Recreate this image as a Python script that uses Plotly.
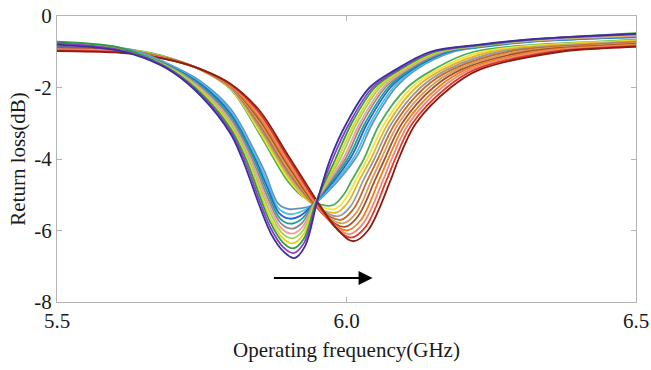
import plotly.graph_objects as go

# ---------------- data ----------------
# left family (resonance near 5.90 GHz), deepest first
freq_a0 = [5.50, 5.60, 5.65, 5.70, 5.75, 5.80, 5.820, 5.870, 5.892, 5.910, 5.928, 5.950, 5.972, 6.000, 6.040, 6.085, 6.145, 6.23, 6.32, 6.50]
rl_a0 = [-0.80, -0.95, -1.17, -1.57, -2.26, -3.30, -4.0, -6.10, -6.60, -6.77, -6.45, -5.15, -4.0, -3.0, -2.0, -1.5, -1.0, -0.80, -0.65, -0.50]
freq_a1 = [5.50, 5.60, 5.65, 5.70, 5.75, 5.80, 5.823, 5.869, 5.891, 5.909, 5.927, 5.949, 5.976, 6.005, 6.045, 6.089, 6.149, 6.23, 6.32, 6.50]
rl_a1 = [-0.76, -0.92, -1.15, -1.55, -2.22, -3.23, -4.0, -5.93, -6.47, -6.63, -6.34, -5.17, -4.0, -3.0, -2.0, -1.5, -1.0, -0.81, -0.66, -0.51]
freq_a2 = [5.50, 5.60, 5.65, 5.70, 5.75, 5.80, 5.826, 5.868, 5.890, 5.908, 5.926, 5.948, 5.981, 6.009, 6.049, 6.092, 6.153, 6.23, 6.32, 6.50]
rl_a2 = [-0.72, -0.86, -1.12, -1.53, -2.18, -3.16, -4.0, -5.76, -6.33, -6.50, -6.24, -5.18, -4.0, -3.0, -2.0, -1.5, -1.0, -0.82, -0.66, -0.48]
freq_a3 = [5.50, 5.60, 5.65, 5.70, 5.75, 5.80, 5.828, 5.867, 5.889, 5.907, 5.925, 5.947, 5.985, 6.014, 6.054, 6.096, 6.157, 6.23, 6.32, 6.50]
rl_a3 = [-0.74, -0.88, -1.13, -1.52, -2.14, -3.09, -4.0, -5.59, -6.20, -6.36, -6.13, -5.20, -4.0, -3.0, -2.0, -1.5, -1.0, -0.82, -0.67, -0.53]
freq_a4 = [5.50, 5.60, 5.65, 5.70, 5.75, 5.80, 5.831, 5.866, 5.888, 5.906, 5.924, 5.946, 5.989, 6.018, 6.058, 6.099, 6.161, 6.23, 6.32, 6.50]
rl_a4 = [-0.77, -0.90, -1.13, -1.50, -2.10, -3.02, -4.0, -5.42, -6.06, -6.22, -6.02, -5.21, -4.0, -3.0, -2.0, -1.5, -1.0, -0.83, -0.68, -0.52]
freq_a5 = [5.50, 5.60, 5.65, 5.70, 5.75, 5.80, 5.834, 5.865, 5.887, 5.905, 5.923, 5.945, 5.994, 6.023, 6.063, 6.103, 6.165, 6.23, 6.32, 6.50]
rl_a5 = [-0.81, -0.93, -1.14, -1.49, -2.06, -2.95, -4.0, -5.25, -5.93, -6.09, -5.92, -5.23, -4.0, -3.0, -2.0, -1.5, -1.0, -0.84, -0.69, -0.55]
freq_a6 = [5.50, 5.60, 5.65, 5.70, 5.75, 5.80, 5.837, 5.864, 5.886, 5.904, 5.922, 5.944, 5.998, 6.027, 6.067, 6.106, 6.169, 6.23, 6.32, 6.50]
rl_a6 = [-0.75, -0.88, -1.10, -1.47, -2.01, -2.88, -4.0, -5.08, -5.79, -5.95, -5.81, -5.24, -4.0, -3.0, -2.0, -1.5, -1.0, -0.85, -0.70, -0.56]
freq_a7 = [5.50, 5.60, 5.65, 5.70, 5.75, 5.80, 5.840, 5.863, 5.885, 5.903, 5.921, 5.943, 6.002, 6.032, 6.072, 6.110, 6.173, 6.23, 6.32, 6.50]
rl_a7 = [-0.79, -0.90, -1.11, -1.45, -1.97, -2.81, -4.0, -4.91, -5.66, -5.81, -5.70, -5.26, -4.0, -3.0, -2.0, -1.5, -1.0, -0.86, -0.70, -0.57]
freq_a8 = [5.50, 5.60, 5.65, 5.70, 5.75, 5.80, 5.842, 5.862, 5.884, 5.902, 5.920, 5.942, 6.006, 6.036, 6.076, 6.113, 6.177, 6.23, 6.32, 6.50]
rl_a8 = [-0.83, -0.93, -1.12, -1.44, -1.93, -2.74, -4.0, -4.74, -5.52, -5.67, -5.59, -5.27, -4.0, -3.0, -2.0, -1.5, -1.0, -0.86, -0.71, -0.58]
freq_a9 = [5.50, 5.60, 5.65, 5.70, 5.75, 5.80, 5.845, 5.861, 5.883, 5.901, 5.919, 5.941, 6.011, 6.041, 6.081, 6.117, 6.181, 6.23, 6.32, 6.50]
rl_a9 = [-0.78, -0.88, -1.08, -1.42, -1.89, -2.67, -4.0, -4.57, -5.39, -5.54, -5.49, -5.29, -4.0, -3.0, -2.0, -1.5, -1.0, -0.87, -0.71, -0.59]
freq_a10 = [5.50, 5.60, 5.65, 5.70, 5.75, 5.80, 5.848, 5.860, 5.882, 5.900, 5.918, 5.940, 6.015, 6.045, 6.085, 6.120, 6.185, 6.23, 6.32, 6.50]
rl_a10 = [-0.76, -0.86, -1.05, -1.40, -1.85, -2.60, -4.0, -4.40, -5.25, -5.40, -5.38, -5.30, -4.0, -3.0, -2.0, -1.5, -1.0, -0.88, -0.72, -0.60]

# right family (resonance 5.97 - 6.01 GHz), deepest first
freq_b0 = [5.50, 5.60, 5.65, 5.70, 5.75, 5.80, 5.85, 5.90, 5.986, 6.012, 6.037, 6.076, 6.090, 6.120, 6.180, 6.230, 6.370, 6.45, 6.50]
rl_b0 = [-0.98, -1.02, -1.10, -1.25, -1.50, -1.90, -2.65, -3.92, -6.00, -6.30, -6.00, -4.6, -4.0, -3.0, -2.0, -1.5, -1.0, -0.90, -0.86]
freq_b1 = [5.50, 5.60, 5.65, 5.70, 5.75, 5.80, 5.85, 5.90, 5.980, 6.008, 6.033, 6.069, 6.084, 6.114, 6.173, 6.222, 6.355, 6.45, 6.50]
rl_b1 = [-0.96, -1.00, -1.09, -1.25, -1.50, -1.92, -2.72, -4.00, -5.90, -6.20, -5.90, -4.6, -4.0, -3.0, -2.0, -1.5, -1.0, -0.88, -0.84]
freq_b2 = [5.50, 5.60, 5.65, 5.70, 5.75, 5.80, 5.85, 5.90, 5.975, 6.005, 6.029, 6.063, 6.078, 6.108, 6.165, 6.214, 6.340, 6.45, 6.50]
rl_b2 = [-0.93, -0.97, -1.08, -1.24, -1.50, -1.93, -2.78, -4.07, -5.80, -6.10, -5.80, -4.6, -4.0, -3.0, -2.0, -1.5, -1.0, -0.86, -0.82]
freq_b3 = [5.50, 5.60, 5.65, 5.70, 5.75, 5.80, 5.85, 5.90, 5.969, 6.001, 6.025, 6.056, 6.072, 6.102, 6.158, 6.206, 6.325, 6.45, 6.50]
rl_b3 = [-0.95, -0.98, -1.07, -1.24, -1.51, -1.95, -2.85, -4.14, -5.70, -6.00, -5.70, -4.6, -4.0, -3.0, -2.0, -1.5, -1.0, -0.84, -0.80]
freq_b4 = [5.50, 5.60, 5.65, 5.70, 5.75, 5.80, 5.85, 5.90, 5.963, 5.997, 6.020, 6.049, 6.066, 6.096, 6.150, 6.198, 6.310, 6.45, 6.50]
rl_b4 = [-0.90, -0.94, -1.06, -1.23, -1.51, -1.96, -2.91, -4.21, -5.60, -5.90, -5.60, -4.6, -4.0, -3.0, -2.0, -1.5, -1.0, -0.82, -0.78]
freq_b5 = [5.50, 5.60, 5.65, 5.70, 5.75, 5.80, 5.85, 5.90, 5.958, 5.994, 6.017, 6.043, 6.060, 6.090, 6.143, 6.190, 6.295, 6.45, 6.50]
rl_b5 = [-0.92, -0.96, -1.05, -1.23, -1.51, -1.98, -2.98, -4.29, -5.50, -5.80, -5.50, -4.6, -4.0, -3.0, -2.0, -1.5, -1.0, -0.80, -0.76]
freq_b6 = [5.50, 5.60, 5.65, 5.70, 5.75, 5.80, 5.85, 5.90, 5.952, 5.990, 6.012, 6.036, 6.054, 6.084, 6.135, 6.182, 6.280, 6.45, 6.50]
rl_b6 = [-0.86, -0.91, -1.04, -1.22, -1.51, -1.99, -3.04, -4.36, -5.40, -5.70, -5.40, -4.6, -4.0, -3.0, -2.0, -1.5, -1.0, -0.78, -0.74]
freq_b7 = [5.50, 5.60, 5.65, 5.70, 5.75, 5.80, 5.85, 5.90, 5.946, 5.986, 6.008, 6.029, 6.048, 6.078, 6.128, 6.174, 6.265, 6.45, 6.50]
rl_b7 = [-0.89, -0.93, -1.03, -1.22, -1.51, -2.01, -3.11, -4.43, -5.30, -5.60, -5.30, -4.6, -4.0, -3.0, -2.0, -1.5, -1.0, -0.76, -0.72]
freq_b8 = [5.50, 5.60, 5.65, 5.70, 5.75, 5.80, 5.85, 5.90, 5.940, 5.982, 6.003, 6.022, 6.042, 6.072, 6.120, 6.166, 6.250, 6.45, 6.50]
rl_b8 = [-0.85, -0.90, -1.02, -1.21, -1.52, -2.02, -3.17, -4.50, -5.25, -5.50, -5.20, -4.6, -4.0, -3.0, -2.0, -1.5, -1.0, -0.74, -0.70]
freq_b9 = [5.50, 5.60, 5.65, 5.70, 5.75, 5.80, 5.85, 5.90, 5.935, 5.979, 5.999, 6.016, 6.036, 6.066, 6.113, 6.158, 6.235, 6.45, 6.50]
rl_b9 = [-0.87, -0.91, -1.01, -1.21, -1.52, -2.04, -3.24, -4.57, -5.17, -5.40, -5.10, -4.6, -4.0, -3.0, -2.0, -1.5, -1.0, -0.72, -0.68]
freq_b10 = [5.50, 5.60, 5.65, 5.70, 5.75, 5.80, 5.85, 5.90, 5.929, 5.975, 5.995, 6.009, 6.030, 6.058, 6.105, 6.150, 6.220, 6.45, 6.50]
rl_b10 = [-0.84, -0.89, -1.00, -1.20, -1.52, -2.05, -3.30, -4.65, -5.10, -5.30, -5.00, -4.6, -4.0, -3.0, -2.0, -1.5, -1.0, -0.70, -0.66]

colors_a = ['#3b2f9e', '#8a3fc8', '#2e9e3e', '#e6d21e', '#9ad35a', '#f29c9c',
            '#8c8c8c', '#1f9e9a', '#2a62d6', '#3cc6dc', '#6a8fbf']
colors_b = ['#8b1e12', '#e0382a', '#ec8a78', '#f07f1e', '#a0522d', '#d79a5a',
            '#c46a2a', '#9a9a9a', '#e2b42c', '#f2e43a', '#4caf50']

x_ticks = [5.5, 6.0, 6.5]
x_tick_text = ['5.5', '6.0', '6.5']
y_ticks = [0, -2, -4, -6, -8]
y_tick_text = ['0', '-2', '-4', '-6', '-8']

arrow_x = [5.872, 6.045]
arrow_y = -7.33

# ---------------- figure ----------------
freqs_a = [freq_a0, freq_a1, freq_a2, freq_a3, freq_a4, freq_a5, freq_a6, freq_a7, freq_a8, freq_a9, freq_a10]
rls_a = [rl_a0, rl_a1, rl_a2, rl_a3, rl_a4, rl_a5, rl_a6, rl_a7, rl_a8, rl_a9, rl_a10]
freqs_b = [freq_b0, freq_b1, freq_b2, freq_b3, freq_b4, freq_b5, freq_b6, freq_b7, freq_b8, freq_b9, freq_b10]
rls_b = [rl_b0, rl_b1, rl_b2, rl_b3, rl_b4, rl_b5, rl_b6, rl_b7, rl_b8, rl_b9, rl_b10]

fig = go.Figure()
for fx, ry, c in zip(freqs_b[::-1], rls_b[::-1], colors_b[::-1]):
    fig.add_trace(go.Scatter(x=fx, y=ry, mode='lines',
                             line=dict(color=c, width=1.8, shape='spline', smoothing=1.0),
                             showlegend=False, hoverinfo='skip'))
for fx, ry, c in zip(freqs_a[::-1], rls_a[::-1], colors_a[::-1]):
    fig.add_trace(go.Scatter(x=fx, y=ry, mode='lines',
                             line=dict(color=c, width=1.8, shape='spline', smoothing=1.0),
                             showlegend=False, hoverinfo='skip'))

fig.add_annotation(x=arrow_x[1], y=arrow_y, ax=arrow_x[0], ay=arrow_y,
                   xref='x', yref='y', axref='x', ayref='y', text='',
                   showarrow=True, arrowhead=2, arrowsize=1.4, arrowwidth=2,
                   arrowcolor='black')

font_family = 'Liberation Serif, Times New Roman, serif'
fig.update_layout(
    width=651, height=370,
    margin=dict(l=57, r=15, t=16, b=68),
    paper_bgcolor='white', plot_bgcolor='white',
    hovermode=False,
    font=dict(family=font_family, size=21, color='#1a1a1a'),
    xaxis=dict(range=[5.5, 6.5], tickvals=x_ticks, ticktext=x_tick_text,
               automargin=False,
               showline=True, linecolor='#b4b4b4', linewidth=1, mirror='ticks',
               ticks='inside', ticklen=5, tickcolor='#b4b4b4', showgrid=False,
               zeroline=False,
               title=dict(text='Operating frequency(GHz)', standoff=10,
                          font=dict(family=font_family, size=21))),
    yaxis=dict(range=[-8, 0], tickvals=y_ticks, ticktext=y_tick_text,
               automargin=False,
               showline=True, linecolor='#b4b4b4', linewidth=1, mirror='ticks',
               ticks='inside', ticklen=5, tickcolor='#b4b4b4', showgrid=False,
               zeroline=False,
               title=dict(text='Return loss(dB)', standoff=2,
                          font=dict(family=font_family, size=21))),
)

fig.write_html('out.html', config={'displayModeBar': False, 'staticPlot': True},
               post_script="document.body.style.margin='0';")
